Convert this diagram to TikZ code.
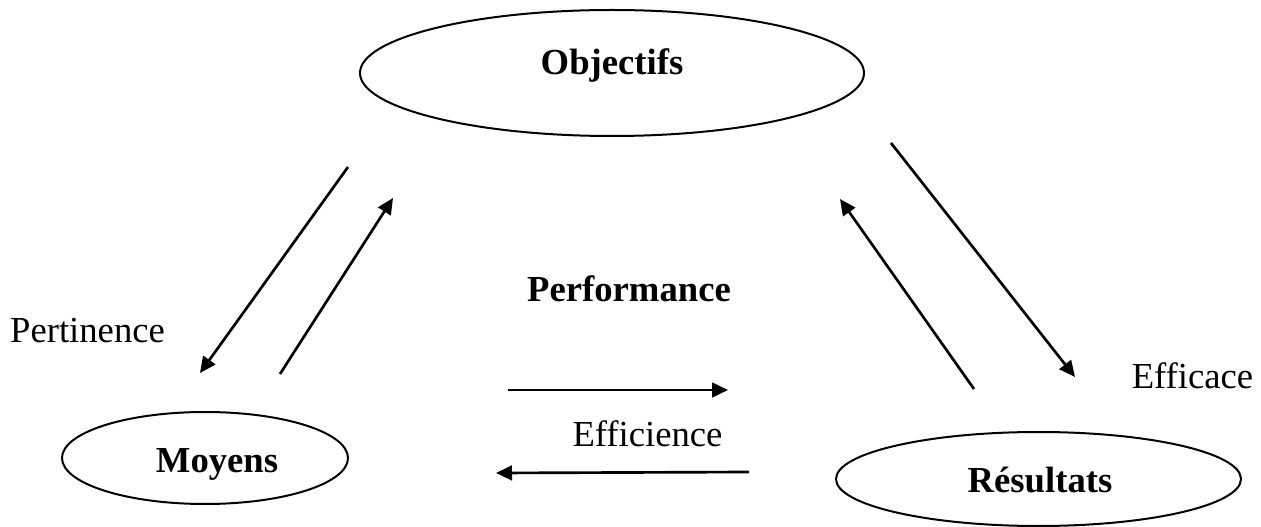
\documentclass[tikz,border=0pt]{standalone}
\usepackage{fontspec}
\setmainfont{Liberation Serif}
\usetikzlibrary{shapes.geometric,arrows.meta}
\begin{document}
\begin{tikzpicture}[x=0.75pt,y=-0.75pt,
  oval/.style={draw, ellipse, line width=1.5pt, inner sep=0pt},
  lbl/.style={font=\fontsize{27.5}{30}\selectfont, anchor=base, inner sep=0pt},
  blbl/.style={lbl, font=\fontsize{27.5}{30}\selectfont\bfseries},
  arr/.style={line width=2pt, -{Triangle[length=12pt,width=11pt]}}]
\useasboundingbox (0,0) rectangle (1261,527);
% ellipses
\node[oval, minimum width=378pt, minimum height=94.5pt] (obj) at (612,73) {};
\node[oval, minimum width=214.5pt, minimum height=69pt] (moy) at (205,458) {};
\node[oval, minimum width=303.75pt, minimum height=70.5pt] (res) at (1038.5,479) {};
% texts
\node[blbl] (objT) at (612,75) {Objectifs};
\node[blbl] (moyT) at (217,472) {Moyens};
\node[blbl] (resT) at (1040,492) {Résultats};
\node[blbl] (perfT) at (629,302) {Performance};
\node[lbl] (pertT) at (87.5,343) {Pertinence};
\node[lbl] (effT) at (1192.5,389) {Efficace};
\node[lbl] (efcT) at (647.5,446) {Efficience};
% arrow end points
\coordinate (a1s) at (348,167); \coordinate (a1e) at (200,373);
\coordinate (a2s) at (280,374); \coordinate (a2e) at (393,198);
\coordinate (a3s) at (891,143); \coordinate (a3e) at (1075,377);
\coordinate (a4s) at (974,389); \coordinate (a4e) at (840,199);
\coordinate (a5s) at (508,390); \coordinate (a5e) at (728,390);
\coordinate (a6s) at (749,472); \coordinate (a6e) at (496,473);
\draw[arr] (a1s) -- (a1e);
\draw[arr] (a2s) -- (a2e);
\draw[arr] (a3s) -- (a3e);
\draw[arr] (a4s) -- (a4e);
\draw[arr] (a5s) -- (a5e);
\draw[arr] (a6s) -- (a6e);
\end{tikzpicture}
\end{document}
